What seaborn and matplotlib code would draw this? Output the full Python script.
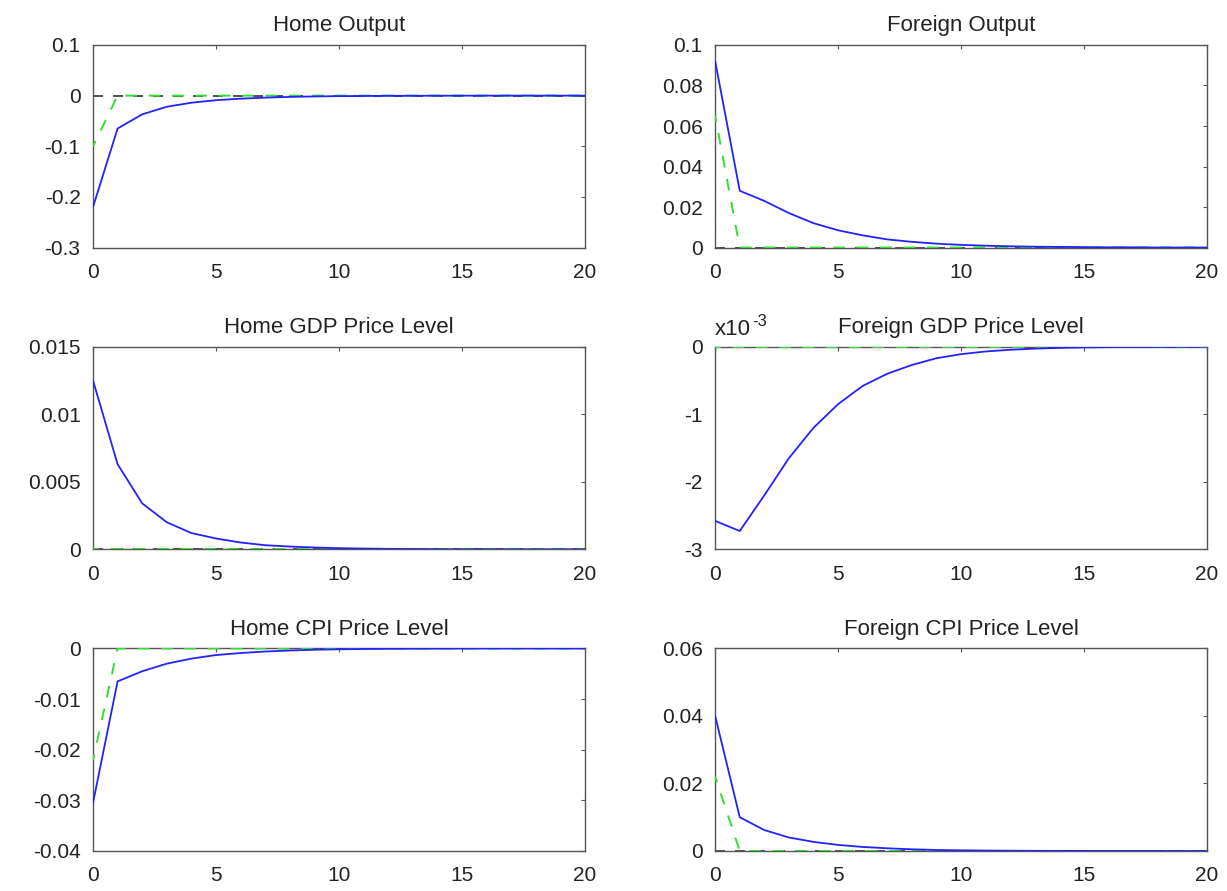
import numpy as np
import pandas as pd
import matplotlib
matplotlib.use("Agg")
import matplotlib.pyplot as plt
import seaborn as sns

# Impulse-response horizons
periods = list(range(21))

# Baseline responses (solid blue)
home_output = [-0.220, -0.065, -0.037, -0.022, -0.014, -0.009, -0.006, -0.004, -0.0025, -0.0016,
               -0.0010, -0.0007, -0.0004, -0.0003, -0.0002, -0.0001, -0.0001, 0.0, 0.0, 0.0, 0.0]
foreign_output = [0.092, 0.028, 0.023, 0.017, 0.012, 0.0085, 0.006, 0.004, 0.0028, 0.0019,
                  0.0013, 0.0009, 0.0006, 0.0004, 0.0003, 0.0002, 0.0001, 0.0001, 0.0, 0.0, 0.0]
home_gdp_price = [0.0125, 0.0063, 0.0034, 0.0020, 0.0012, 0.0008, 0.0005, 0.0003, 0.0002, 0.00013,
                  0.00008, 0.00005, 0.00003, 0.00002, 0.00001, 0.0, 0.0, 0.0, 0.0, 0.0, 0.0]
foreign_gdp_price_e3 = [-2.58, -2.73, -2.20, -1.65, -1.20, -0.85, -0.58, -0.40, -0.27, -0.17,
                        -0.11, -0.07, -0.045, -0.028, -0.017, -0.010, -0.006, -0.004, -0.002, -0.001, 0.0]
home_cpi = [-0.0305, -0.0065, -0.0045, -0.0030, -0.0020, -0.0013, -0.0009, -0.0006, -0.0004, -0.00025,
            -0.00016, -0.0001, -0.00006, -0.00004, -0.00002, -0.00001, 0.0, 0.0, 0.0, 0.0, 0.0]
foreign_cpi = [0.040, 0.010, 0.0062, 0.0040, 0.0027, 0.0018, 0.0012, 0.0008, 0.0005, 0.0003,
               0.0002, 0.00013, 0.00008, 0.00005, 0.00003, 0.00002, 0.00001, 0.0, 0.0, 0.0, 0.0]

# Alternative responses (dashed green): impact effect only
home_output_alt = [-0.100] + [0.0] * 20
foreign_output_alt = [0.065] + [0.0] * 20
home_gdp_price_alt = [0.0] * 21
foreign_gdp_price_alt = [0.0] * 21
home_cpi_alt = [-0.022] + [0.0] * 20
foreign_cpi_alt = [0.022] + [0.0] * 20

titles = ["Home Output", "Foreign Output", "Home GDP Price Level",
          "Foreign GDP Price Level", "Home CPI Price Level", "Foreign CPI Price Level"]
baseline = [home_output, foreign_output, home_gdp_price,
            foreign_gdp_price_e3, home_cpi, foreign_cpi]
alternative = [home_output_alt, foreign_output_alt, home_gdp_price_alt,
               foreign_gdp_price_alt, home_cpi_alt, foreign_cpi_alt]
y_limits = [(-0.3, 0.1), (0, 0.1), (0, 0.015), (-3, 0), (-0.04, 0), (0, 0.06)]
y_ticks = [
    [-0.3, -0.2, -0.1, 0, 0.1],
    [0, 0.02, 0.04, 0.06, 0.08, 0.1],
    [0, 0.005, 0.01, 0.015],
    [-3, -2, -1, 0],
    [-0.04, -0.03, -0.02, -0.01, 0],
    [0, 0.02, 0.04, 0.06],
]
y_tick_labels = [
    ["-0.3", "-0.2", "-0.1", "0", "0.1"],
    ["0", "0.02", "0.04", "0.06", "0.08", "0.1"],
    ["0", "0.005", "0.01", "0.015"],
    ["-3", "-2", "-1", "0"],
    ["-0.04", "-0.03", "-0.02", "-0.01", "0"],
    ["0", "0.02", "0.04", "0.06"],
]
x_ticks = [0, 5, 10, 15, 20]

sns.set_style("white")
plt.rcParams["font.family"] = ["Liberation Sans", "DejaVu Sans"]

fig, axes = plt.subplots(3, 2, figsize=(12.27, 8.91), dpi=100)
fig.subplots_adjust(left=0.0758, right=0.9837, top=0.9495, bottom=0.0449,
                    wspace=0.265, hspace=0.49)

edge = "#555555"
text_color = "#222222"
for i, ax in enumerate(axes.flat):
    df = pd.DataFrame({"t": periods, "base": baseline[i], "alt": alternative[i],
                       "zero": [0.0] * len(periods)})
    sns.lineplot(data=df, x="t", y="zero", ax=ax, color="#333333", lw=1.2,
                 linestyle=(0, (6, 6)), zorder=2)
    sns.lineplot(data=df, x="t", y="alt", ax=ax, color="#33dd33", lw=1.4,
                 linestyle=(3, (6, 6)), zorder=3)
    sns.lineplot(data=df, x="t", y="base", ax=ax, color="#2222ff", lw=1.3, zorder=4)

    ax.set_xlim(0, 20)
    ax.set_ylim(*y_limits[i])
    ax.set_xticks(x_ticks)
    ax.set_xticklabels([str(v) for v in x_ticks])
    ax.set_yticks(y_ticks[i])
    ax.set_yticklabels(y_tick_labels[i])
    ax.set_xlabel("")
    ax.set_ylabel("")
    ax.set_title(titles[i], fontsize=16, color=text_color, pad=10)
    ax.tick_params(direction="in", length=3, width=0.8, color=edge,
                   labelsize=15, labelcolor=text_color, top=True, right=True)
    ax.tick_params(axis="x", pad=11)
    ax.tick_params(axis="y", pad=9)
    for sp in ax.spines.values():
        sp.set_visible(True)
        sp.set_color(edge)
        sp.set_linewidth(1.0)

# Scale factor on the Foreign GDP price panel
scale_ax = axes[1, 1]
scale_ax.text(0.0, 1.035, "x10", transform=scale_ax.transAxes,
              fontsize=16, color=text_color, ha="left", va="bottom")
scale_ax.text(0.076, 1.09, "-3", transform=scale_ax.transAxes,
              fontsize=12, color=text_color, ha="left", va="bottom")

fig.savefig("out.png", dpi=100, facecolor="white")
